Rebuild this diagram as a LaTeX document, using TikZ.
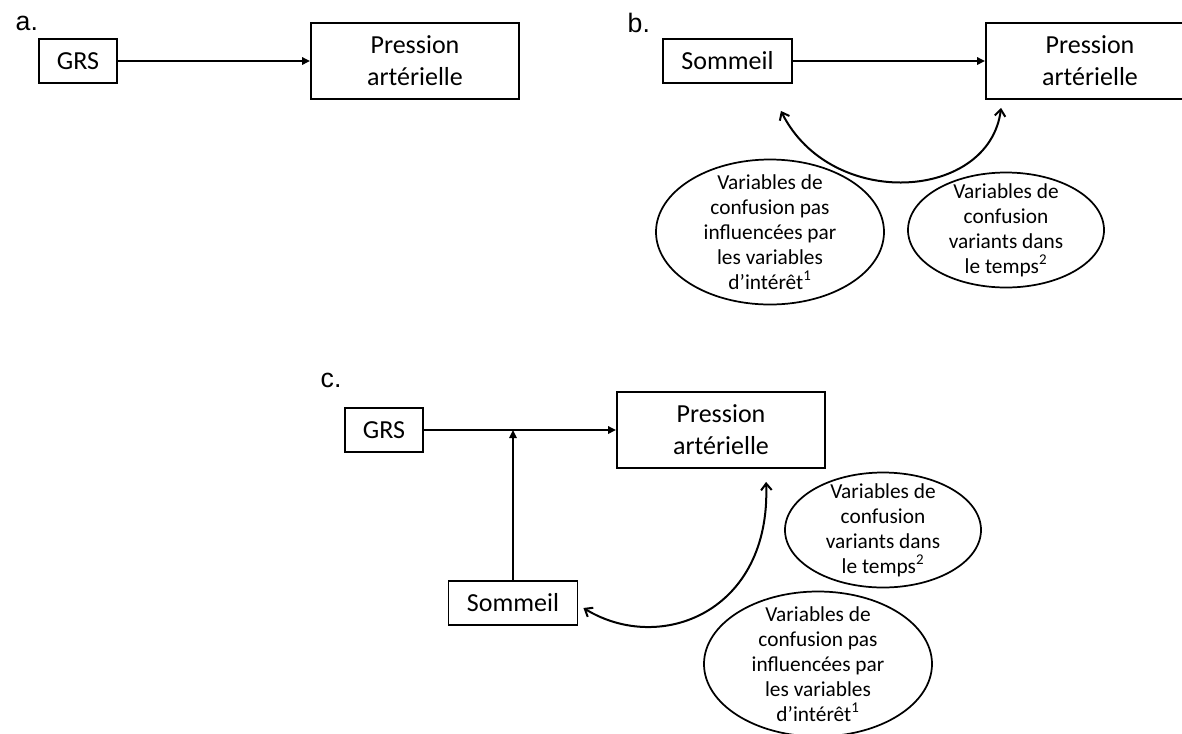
\documentclass[tikz,border=0pt]{standalone}
\usepackage{fontspec}
\setmainfont{Carlito}
\newfontfamily\panelfont{Liberation Sans}
\usetikzlibrary{arrows.meta,shapes.geometric}

\begin{document}
\begin{tikzpicture}[
    x=0.75pt, y=-0.75pt,
    every node/.style={font=\fontsize{19.5}{24}\selectfont},
    varbox/.style={draw, line width=1.4pt, inner sep=0pt, minimum height=33pt},
    outbox/.style={varbox, minimum width=156pt, minimum height=57pt, align=center},
    confell/.style={draw, ellipse, line width=1.3pt, inner sep=-30pt, align=center,
        font=\fontsize{16}{18.75}\selectfont},
    bigell/.style={confell, minimum width=171pt, minimum height=108.75pt},
    smallell/.style={confell, minimum width=147pt, minimum height=86.25pt},
    panel/.style={anchor=base west, font=\panelfont\fontsize{20}{24}\selectfont},
    flow/.style={-{Triangle[length=6pt,width=5.5pt]}, line width=1.5pt},
    confarrow/.style={{Straight Barb[length=5pt,width=8pt]}-{Straight Barb[length=5pt,width=8pt]}, line width=1.5pt},
]
\clip (0,0) rectangle (1182,733);

% Panel a: GRS -> pression
\node[panel] (laba) at (11,30) {a.};
\node[varbox, minimum width=58.5pt] (grsa) at (78,61) {GRS};
\node[outbox] (presa) at (415,61) {Pression\\artérielle};
\draw[flow] (grsa) -- (presa);

% Panel b: sommeil -> pression, with confounders
\node[panel] (labb) at (623,32) {b.};
\node[varbox, minimum width=96.75pt] (somb) at (727.5,61) {Sommeil};
\node[outbox] (presb) at (1090,61) {Pression\\artérielle};
\draw[flow] (somb) -- (presb);
\draw[confarrow] ([shift={(-12,27)}]somb.south east)
    .. controls +(50,100) and +(-12,93) .. ([shift={(16,8)}]presb.south west);

\node[bigell] (confb1) at (770,232)
    {Variables de\\confusion pas\\influencées par\\les variables\\d’intérêt\textsuperscript{1}};
\node[smallell] (confb2) at (1006,230)
    {Variables de\\confusion\\variants dans\\le temps\textsuperscript{2}};

% Panel c: sommeil modifies GRS -> pression
\node[panel] (labc) at (316,387) {c.};
\node[varbox, minimum width=58.5pt] (grsc) at (384,430) {GRS};
\node[outbox] (presc) at (721,430) {Pression\\artérielle};
\node[varbox, minimum width=96.75pt] (somc) at (513,603) {Sommeil};
\draw[flow] (grsc) -- (presc);
\draw[flow] (somc) -- (somc |- grsc);
\draw[confarrow] ([shift={(150,13)}]presc.south west)
    .. controls +(5,130) and +(77,47) .. ([shift={(5,5)}]somc.east);

\node[smallell] (confc2) at (883,530)
    {Variables de\\confusion\\variants dans\\le temps\textsuperscript{2}};
\node[bigell] (confc1) at (818,664)
    {Variables de\\confusion pas\\influencées par\\les variables\\d’intérêt\textsuperscript{1}};

\end{tikzpicture}
\end{document}
